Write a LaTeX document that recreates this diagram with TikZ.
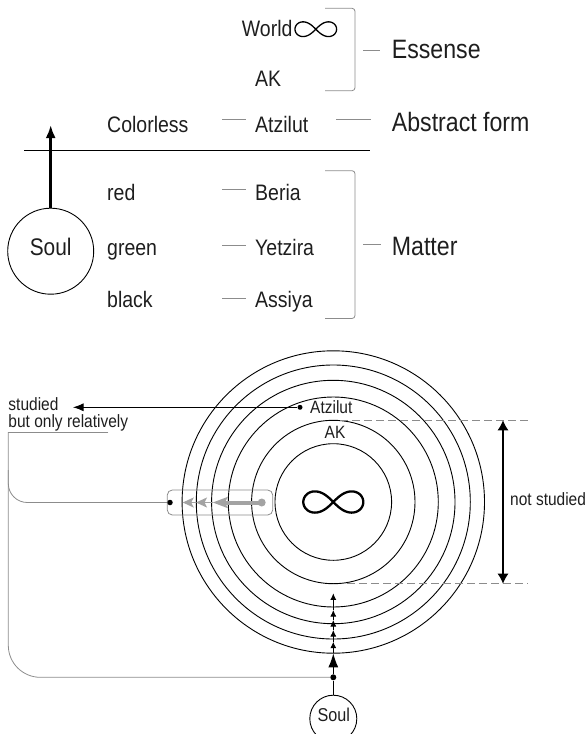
\documentclass[tikz,border=0pt]{standalone}
\usepackage{fontspec}
\setmainfont[FakeStretch=0.87]{Liberation Sans}
\usetikzlibrary{arrows.meta}
\definecolor{gl}{HTML}{8C8C8C}
\definecolor{ga}{HTML}{A3A3A3}
\definecolor{txt}{HTML}{1E1E1E}
\begin{document}
\begin{tikzpicture}[x=1pt,y=-1pt,
  med/.style={font=\fontsize{22.4}{26}\selectfont, inner sep=0pt, anchor=base west, text=txt},
  big/.style={font=\fontsize{26.6}{30}\selectfont, inner sep=0pt, anchor=base west, text=txt},
  sml/.style={font=\fontsize{17.8}{20}\selectfont, inner sep=0pt, anchor=base west, text=txt},
  gdash/.style={draw=gl, line width=0.8pt},
  ring/.style={line width=0.9pt},
  dotb/.style={circle, fill=black, inner sep=0pt, minimum size=5pt},
  lemni/.style={smooth, samples=140, domain=0:360}
]
\useasboundingbox (0,0) rectangle (586,734);

% ---------- upper part ----------
\node[med] (world) at (241.7,36.3) {World};
\draw[line width=1.3pt, shift={(315.8,29.2)}] plot[lemni] ({20.8*cos(\x)/(1+(sin(\x))^2)},{20.8*sin(\x)*cos(\x)/(1+(sin(\x))^2)});
\node[med] (ak1) at (255,86.3) {AK};
\node[med] (colorless) at (107,132.7) {Colorless};
\node[med] (atz1) at (255,132.7) {Atzilut};
\node[med] (red) at (107,200) {red};
\node[med] (green) at (107,255) {green};
\node[med] (black) at (107,307) {black};
\node[med] (beria) at (255,200) {Beria};
\node[med] (yetz) at (255,255) {Yetzira};
\node[med] (assiya) at (255,307) {Assiya};
\node[big] (essense) at (391.7,58.5) {Essense};
\node[big] (abstract) at (391.7,131.7) {Abstract form};
\node[big] (matter) at (391.7,255.5) {Matter};

\draw[gdash, rounded corners=3pt] (325,8.3) -- (355,8.3) -- (355,90.7) -- (325,90.7);
\draw[gdash, rounded corners=3pt] (325,170.7) -- (355,170.7) -- (355,318.5) -- (325,318.5);
\draw[gdash] (363,50) -- (380,50);
\draw[gdash] (222,119.5) -- (246,119.5);
\draw[gdash] (336,119.5) -- (371,119.5);
\draw[gdash] (222,189.5) -- (246,189.5);
\draw[gdash] (222,245) -- (246,245);
\draw[gdash] (222,298) -- (246,298);
\draw[gdash] (363,244.5) -- (381,244.5);

\draw[line width=0.9pt] (24,150.7) -- (370,150.7);

\node[circle, draw, line width=0.9pt, minimum size=86pt, inner sep=0pt] (soul) at (50.7,251.2) {};
\node[font=\fontsize{24}{27}\selectfont, text=txt, inner sep=0pt] (soultxt) at (50.7,247) {Soul};
\coordinate (soultip) at (50.7,125);
\draw[line width=3pt, -{Latex[length=13pt,width=10pt]}] (soul) -- (soultip);

% ---------- lower part ----------
\coordinate (C) at (333.3,502);
\foreach \r in {58.3,81.7,105,121.7,137,151.2} \draw[ring] (C) circle[radius=\r];
\draw[line width=2.3pt, shift={(333.3,502)}] plot[lemni] ({30*cos(\x)/(1+(sin(\x))^2)},{30*sin(\x)*cos(\x)/(1+(sin(\x))^2)});

\draw[gl, line width=0.8pt, dash pattern=on 8pt off 4pt] (340,420.3) -- (528,420.3);
\draw[gl, line width=0.8pt, dash pattern=on 8pt off 4pt] (347,583.7) -- (528,583.7);
\coordinate (ns1) at (503,420.3);
\coordinate (ns2) at (503,583.7);
\draw[line width=1.1pt, {Latex[length=10pt,width=11pt]}-{Latex[length=10pt,width=11pt]}] (ns1) -- (ns2);
\node[sml] (ns) at (510,505) {not studied};

\node[dotb] (adot) at (300,407.3) {};
\node[sml] (atz2) at (310,413.4) {Atzilut};
\node[sml, anchor=base] (ak2) at (335,438) {AK};
\coordinate (stip) at (73,407.3);
\draw[line width=0.9pt, -{Latex[length=10.5pt,width=8pt]}] (adot) -- (stip);
\node[sml] (st1) at (8.3,410.5) {studied};
\node[sml] (st2) at (8.3,427) {but only relatively};
\draw[gdash] (108.3,432) -- (8.3,432);

\node[draw=gl, line width=0.8pt, rounded corners=5pt, minimum width=105.4pt, minimum height=25pt, inner sep=0pt] (rr) at (220,502.5) {};
\node[dotb, minimum size=5.5pt] (ldot) at (170,502.5) {};
\node[circle, fill=ga, inner sep=0pt, minimum size=8pt] (gdot) at (261.7,502.5) {};
\coordinate (g1) at (212.7,502.5);
\coordinate (g2) at (196,502.5);
\coordinate (g3) at (182.7,502.5);
\draw[ga, line width=4pt, -{Stealth[length=15pt,width=11pt,inset=3pt]}] (gdot.center) -- (g1);
\draw[ga, line width=1.5pt, -{Stealth[length=11pt,width=10pt,inset=2.5pt]}] (g1) -- (g2);
\draw[ga, line width=1.5pt, -{Stealth[length=11pt,width=10pt,inset=2.5pt]}] (g2) -- (g3);

\node[dotb, minimum size=6pt] (bdot) at (333.3,677.3) {};
\draw[gdash, rounded corners=32pt] (8.3,432) |- (bdot);
\draw[gdash, rounded corners=19pt] (8.3,470) |- (ldot);

\node[circle, draw, line width=0.9pt, minimum size=47pt, inner sep=0pt] (bsoul) at (333.3,718.7) {};
\node[font=\fontsize{18.6}{21}\selectfont, text=txt, inner sep=0pt] (bsoultxt) at (333.7,714.5) {Soul};
\draw[line width=0.9pt] (bsoul) -- (bdot);
\coordinate (v0) at (333.3,653.3);
\coordinate (v1) at (333.3,641.7);
\coordinate (v2) at (333.3,630);
\coordinate (v3) at (333.3,620);
\coordinate (v4) at (333.3,610);
\coordinate (v5) at (333.3,593.3);
\draw[line width=1.2pt, -{Latex[length=14pt,width=10pt]}] (bdot) -- (v0);
\draw[line width=0.9pt, -{Latex[length=6.5pt,width=6pt]}] (v0) -- (v1);
\draw[line width=0.9pt, -{Latex[length=6.5pt,width=6pt]}] (v1) -- (v2);
\draw[line width=0.9pt, -{Latex[length=6.5pt,width=6pt]}] (v2) -- (v3);
\draw[line width=0.9pt, -{Latex[length=6.5pt,width=6pt]}] (v3) -- (v4);
\draw[line width=0.9pt, -{Latex[length=6.5pt,width=6pt]}] (v4) -- (v5);
\end{tikzpicture}
\end{document}
